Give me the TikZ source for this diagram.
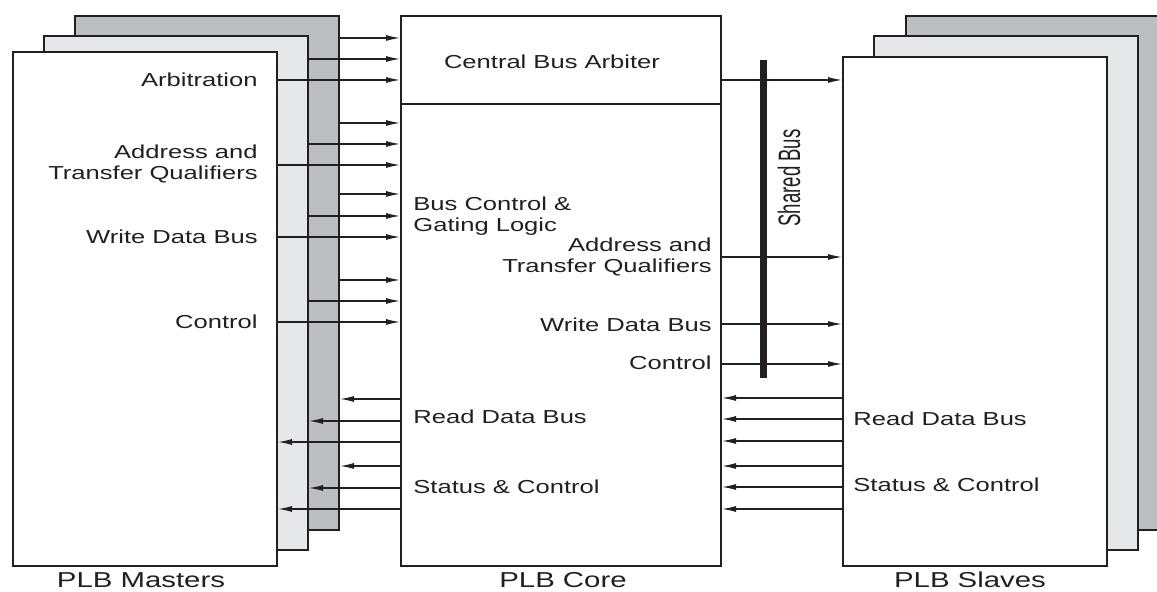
\documentclass[tikz,border=0pt]{standalone}
\usepackage{fontspec}
\setmainfont[FakeStretch=1.36]{Liberation Sans}
\newfontfamily\condfont[FakeStretch=0.6]{Liberation Sans}
\usepackage{xcolor}
\usetikzlibrary{positioning,arrows.meta}
\definecolor{ink}{HTML}{231F20}
\definecolor{shadedk}{HTML}{BCBEC0}
\definecolor{shadelt}{HTML}{E6E7E8}

\begin{document}
\begin{tikzpicture}[x=0.5pt,y=-0.5pt,
  card/.style={draw=ink,line width=1pt,inner sep=0pt,anchor=north west,
               minimum width=132pt,minimum height=257pt},
  core/.style={draw=ink,line width=1pt,inner sep=0pt,anchor=north west,fill=white,
               minimum width=160pt},
  lbl/.style={inner sep=0pt,font=\fontsize{9.4}{10.5}\selectfont,text=ink},
  caption/.style={inner sep=0pt,font=\fontsize{10.8}{13}\selectfont,text=ink},
  arr/.style={-{Latex[length=7pt,width=3pt]},line width=0.6pt,ink},
  bus/.style={line width=3.5pt,ink}]
  \useasboundingbox (0,0) rectangle (1157,592);
  \clip (0,0) rectangle (1157,592);
  % masters (stacked cards)
  \node[card,fill=shadedk] (m3) at (74,15) {};
  \node[card,fill=shadelt] (m2) at (43,35) {};
  \node[card,fill=white] (m1) at (12,51) {};
  % core
  \node[core,minimum height=44pt] (arb) at (400,15) {};
  \node[core,minimum height=231pt] (ctl) at (400,103) {};
  % slaves (stacked cards)
  \node[card,fill=shadedk] (s3) at (905,15) {};
  \node[card,fill=shadelt] (s2) at (873,35) {};
  \node[card,fill=white,minimum height=254.5pt] (s1) at (842,56) {};
  % master -> core
  \foreach \y/\src/\dst in {38/m3/arb,59/m2/arb,80/m1/arb,
                           123/m3/ctl,144/m2/ctl,165/m1/ctl,
                           194/m3/ctl,216/m2/ctl,237/m1/ctl,
                           280/m3/ctl,301/m2/ctl,322/m1/ctl}
    \draw[arr] (\src.east |- 0,\y) -- (\dst.west |- 0,\y);
  % core -> master
  \foreach \y/\dst in {399/m3,421/m2,442/m1,466/m3,488/m2,509/m1}
    \draw[arr] (ctl.west |- 0,\y) -- (\dst.east |- 0,\y);
  % core -> slaves
  \foreach \y/\src in {80/arb,257/ctl,324/ctl,364/ctl}
    \draw[arr] (\src.east |- 0,\y) -- (s1.west |- 0,\y);
  % slaves -> core
  \foreach \y in {398,419,441,466,487,509}
    \draw[arr] (s1.west |- 0,\y) -- (ctl.east |- 0,\y);
  % shared bus
  \coordinate (bt) at (763,60);
  \coordinate (bb) at (763,378);
  \draw[bus] (bt) -- (bb);
  \node[inner sep=0pt,rotate=90,font=\condfont\fontsize{15.5}{18}\selectfont,text=ink] (sbl) at (789,178) {Shared Bus};
  % labels
  \node[lbl,anchor=east] (arbl) at (258,80) {Arbitration};
  \node[lbl,anchor=east,align=right] (atqm) at (258,164) {Address and\\Transfer Qualifiers};
  \node[lbl,anchor=east] (wdbm) at (258,237) {Write Data Bus};
  \node[lbl,anchor=east] (ctlm) at (258,322) {Control};
  \node[lbl] (cba) at (552,62) {Central Bus Arbiter};
  \node[lbl,anchor=west,align=left] (bcg) at (413,216) {Bus Control \&\\Gating Logic};
  \node[lbl,anchor=east,align=right] (atqc) at (712,257) {Address and\\Transfer Qualifiers};
  \node[lbl,anchor=east] (wdbc) at (712,325) {Write Data Bus};
  \node[lbl,anchor=east] (ctlc) at (712,363) {Control};
  \node[lbl,anchor=west] (rdbc) at (413,417) {Read Data Bus};
  \node[lbl,anchor=west] (stcc) at (413,487) {Status \& Control};
  \node[lbl,anchor=west] (rdbs) at (853,419) {Read Data Bus};
  \node[lbl,anchor=west] (stcs) at (853,485) {Status \& Control};
  % captions
  \node[caption] (mcap) at (141,580) {PLB Masters};
  \node[caption] (ccap) at (563,580) {PLB Core};
  \node[caption] (scap) at (970,580) {PLB Slaves};
\end{tikzpicture}
\end{document}
